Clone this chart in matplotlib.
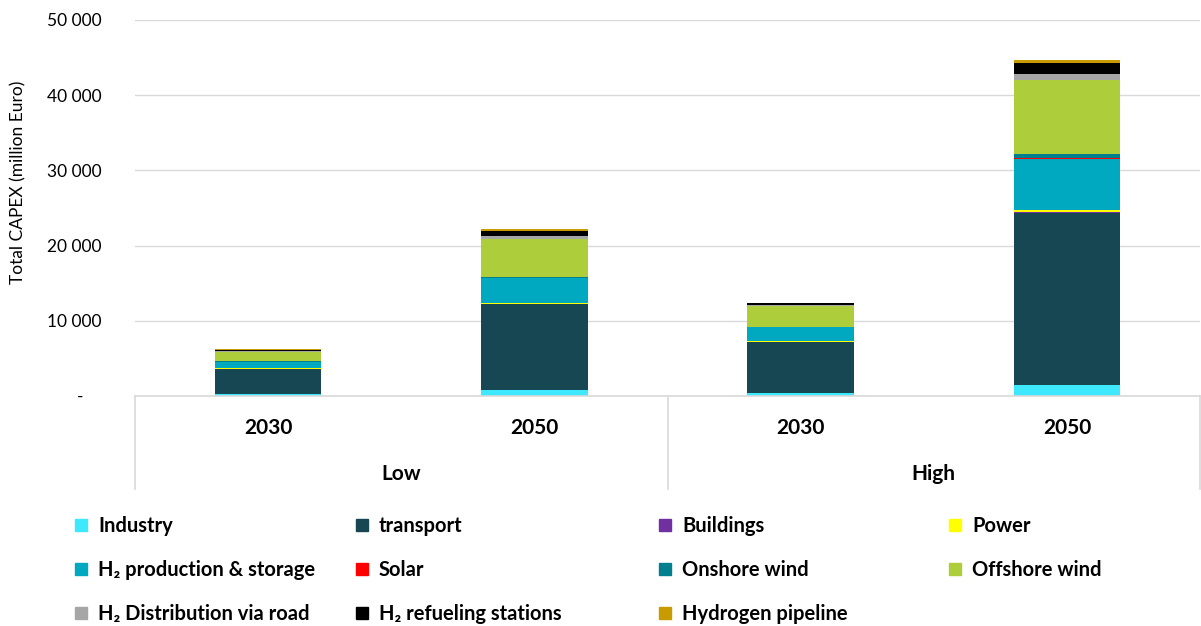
import matplotlib
matplotlib.use("Agg")
import matplotlib.pyplot as plt
from matplotlib.patches import Rectangle
import numpy as np

plt.rcParams['font.family'] = ['Lato', 'DejaVu Sans']

years = ["2030", "2050", "2030", "2050"]
groups = ["Low", "High"]

series = ["Industry", "transport", "Buildings", "Power",
          "H₂ production & storage", "Solar", "Onshore wind", "Offshore wind",
          "H₂ Distribution via road", "H₂ refueling stations", "Hydrogen pipeline"]

industry   = [200, 800, 350, 1460]
transport  = [3400, 11400, 6860, 22830]
buildings  = [20, 100, 30, 200]
power      = [50, 120, 100, 260]
h2_prod    = [850, 3230, 1770, 6740]
solar      = [10, 80, 20, 170]
onshore    = [60, 150, 100, 580]
offshore   = [1300, 5050, 2700, 9840]
h2_dist    = [100, 400, 130, 800]
h2_refuel  = [150, 670, 270, 1410]
h2_pipe    = [80, 200, 100, 360]

values = [industry, transport, buildings, power, h2_prod, solar, onshore,
          offshore, h2_dist, h2_refuel, h2_pipe]

colors = ["#3EE8FF", "#164752", "#7030A0", "#FFFF00", "#00A9BF", "#FF0000",
          "#00808F", "#ADCD3A", "#A6A6A6", "#000000", "#C89B00"]

W, H = 1201, 626
fig = plt.figure(figsize=(W / 100, H / 100), dpi=100)
ax = fig.add_axes([135 / W, 1 - 396 / H, (1200 - 135) / W, (396 - 20) / H])

x = np.arange(len(years))
bottom = np.zeros(len(years))
for name, vals, c in zip(series, values, colors):
    ax.bar(x, vals, width=0.40, bottom=bottom, color=c, label=name,
           edgecolor='none')
    bottom += np.array(vals)

ax.set_xlim(-0.5, 3.5)
ax.set_ylim(0, 50000)
yt = np.arange(0, 50001, 10000)
ax.set_yticks(yt)
ax.set_yticklabels(["-    "] + [f"{v:,}".replace(",", " ") for v in yt[1:]],
                   fontsize=12.5)
ax.tick_params(axis='y', length=0, pad=24)
ax.set_xticks([])
ax.grid(axis='y', color='#D9D9D9', linewidth=1)
ax.set_axisbelow(True)
for s in ['left', 'right', 'top']:
    ax.spines[s].set_visible(False)
ax.spines['bottom'].set_color('#D9D9D9')
ax.spines['bottom'].set_linewidth(1.2)

trans = ax.get_xaxis_transform()
# category labels
for xi, yl in zip(x, years):
    ax.text(xi, 1 - (428 - 20) / (396 - 20), yl, transform=trans, ha='center',
            va='center', fontsize=15, fontweight='bold')
for gi, g in enumerate(groups):
    ax.text(gi * 2 + 0.5, 1 - (474 - 20) / (396 - 20), g, transform=trans,
            ha='center', va='center', fontsize=15, fontweight='bold')
# separators
ybot = 1 - (489 - 20) / (396 - 20)
for xs in [-0.5, 1.5, 3.5]:
    ax.plot([xs, xs], [0, ybot], transform=trans, color='#D9D9D9',
            linewidth=1.2, clip_on=False)

fig.text(18 / W, 1 - 182 / H, "Total CAPEX (million Euro)", rotation=90,
         ha='center', va='center', fontsize=12.5)

# legend (Excel style, row-major)
col_x = [81, 362, 665, 955]
row_y = [525, 569, 613]
for i, (name, c) in enumerate(zip(series, colors)):
    r, cidx = divmod(i, 4)
    mx, my = col_x[cidx], row_y[r]
    fig.patches.append(Rectangle(((mx - 6) / W, 1 - (my + 6) / H), 12 / W, 12 / H,
                                 transform=fig.transFigure, color=c))
    fig.text((mx + 17) / W, 1 - (my + 1) / H, name, ha='left', va='center',
             fontsize=14.5, fontweight='bold')

fig.savefig("out.png", dpi=100)
